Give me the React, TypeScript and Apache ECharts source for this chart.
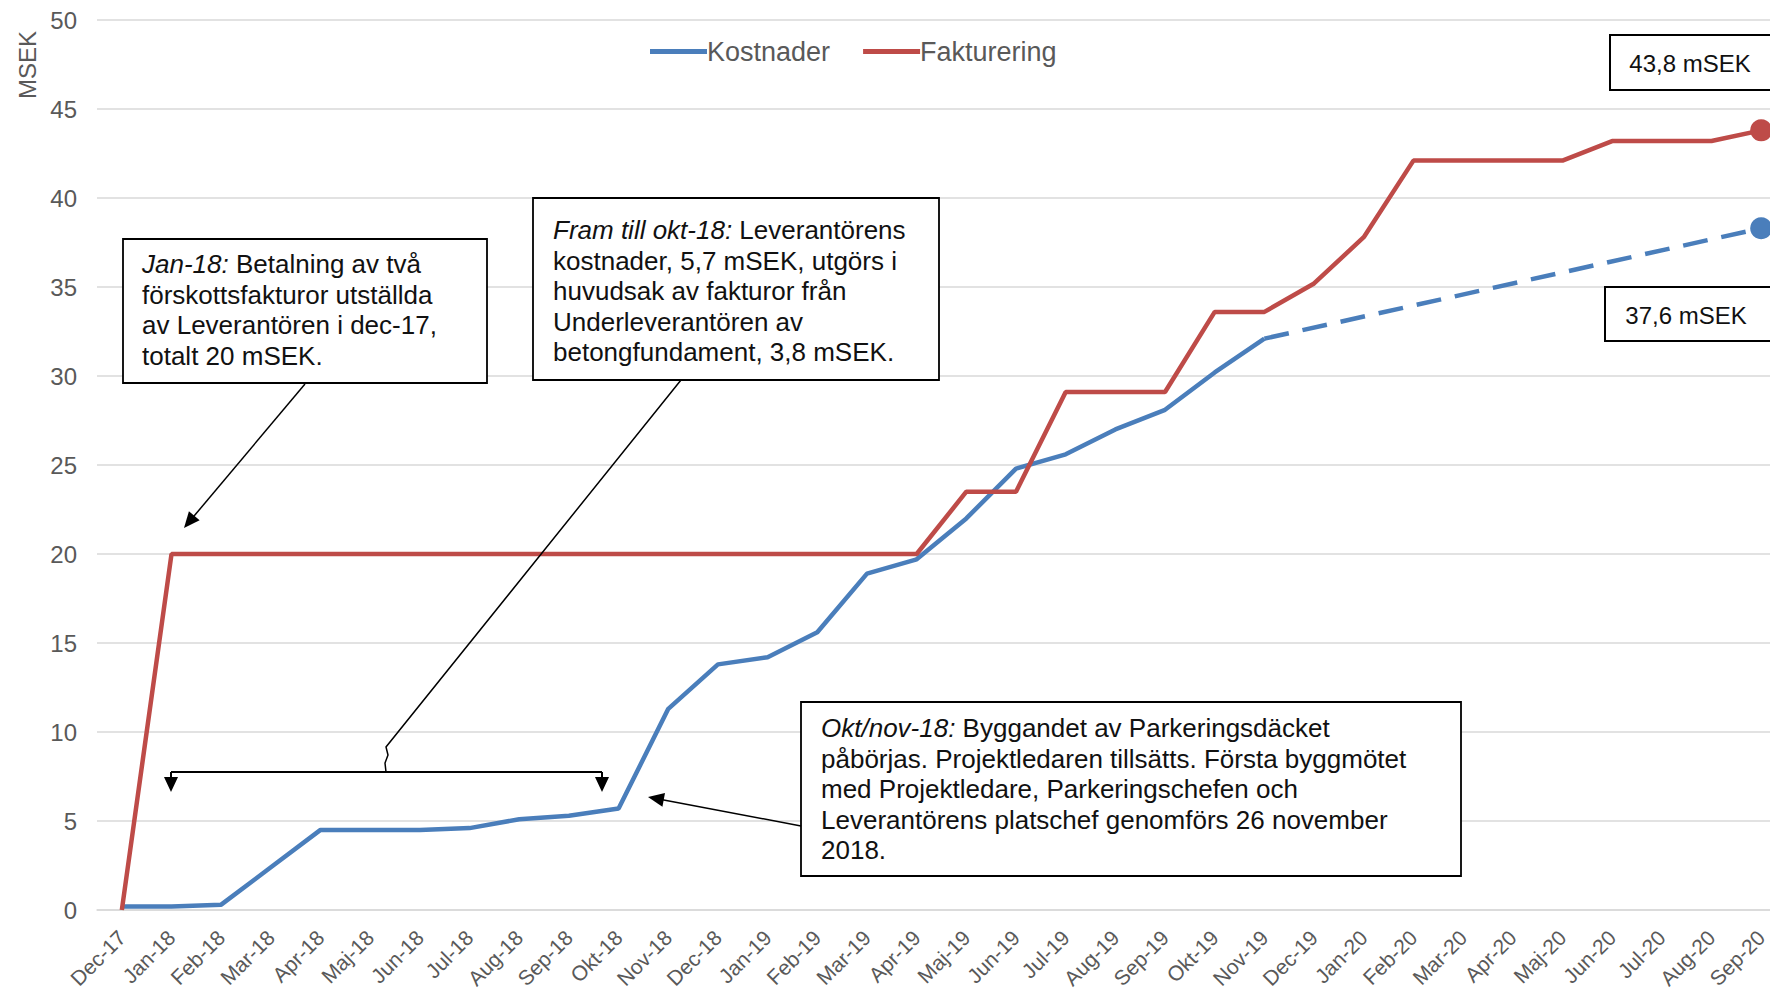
import React, { useEffect, useRef } from 'react';
import * as echarts from 'echarts';

const months = ['Dec-17','Jan-18','Feb-18','Mar-18','Apr-18','Maj-18','Jun-18','Jul-18','Aug-18','Sep-18','Okt-18','Nov-18','Dec-18','Jan-19','Feb-19','Mar-19','Apr-19','Maj-19','Jun-19','Jul-19','Aug-19','Sep-19','Okt-19','Nov-19','Dec-19','Jan-20','Feb-20','Mar-20','Apr-20','Maj-20','Jun-20','Jul-20','Aug-20','Sep-20'];

// Kostnader, actual (Dec-17 .. Nov-19)
const kostnader = [0.2,0.2,0.3,2.4,4.5,4.5,4.5,4.6,5.1,5.3,5.7,11.3,13.8,14.2,15.6,18.9,19.7,22.0,24.8,25.6,27.0,28.1,30.2,32.1];

// Kostnader, forecast (dashed) start and end
const prognosStart = { month: 'Nov-19', value: 32.1 };
const prognosEnd = { month: 'Sep-20', value: 38.3 };

// Fakturering (Dec-17 .. Sep-20)
const fakturering = [0,20,20,20,20,20,20,20,20,20,20,20,20,20,20,20,20,23.5,23.5,29.1,29.1,29.1,33.6,33.6,35.2,37.8,42.1,42.1,42.1,42.1,43.2,43.2,43.2,43.8];

const yTicks = { min: 0, max: 50, interval: 5 };

const BLUE = '#4a7ebb';
const RED = '#be4b48';
const GRAY = '#595959';
const FONT = '"Liberation Sans", Arial, sans-serif';

function arrowHead(tx: number, ty: number, fx: number, fy: number, len = 16, half = 7) {
  const dx = tx - fx, dy = ty - fy;
  const d = Math.sqrt(dx * dx + dy * dy);
  const ux = dx / d, uy = dy / d;
  const bx = tx - ux * len, by = ty - uy * len;
  const px = -uy, py = ux;
  return {
    type: 'polygon',
    shape: { points: [[tx, ty], [bx + px * half, by + py * half], [bx - px * half, by - py * half]] },
    style: { fill: '#000' },
    z: 20,
  };
}

function arrow(fx: number, fy: number, tx: number, ty: number) {
  const dx = tx - fx, dy = ty - fy;
  const d = Math.sqrt(dx * dx + dy * dy);
  const ex = tx - (dx / d) * 12, ey = ty - (dy / d) * 12;
  return [
    { type: 'line', shape: { x1: fx, y1: fy, x2: ex, y2: ey }, style: { stroke: '#000', lineWidth: 1.5 }, z: 20 },
    arrowHead(tx, ty, fx, fy),
  ];
}

function box(x: number, y: number, w: number, h: number, lw = 1.8) {
  return { type: 'rect', shape: { x, y, width: w, height: h }, style: { fill: '#fff', stroke: '#000', lineWidth: lw }, z: 15 };
}

const LH = 30.5;
const FS = 26;
function note(x: number, y: number, text: string) {
  return {
    type: 'text',
    x, y, z: 16,
    style: {
      text,
      fill: '#111',
      fontSize: FS,
      fontFamily: FONT,
      lineHeight: LH,
      align: 'left',
      verticalAlign: 'top',
      rich: {
        i: { fontStyle: 'italic', fontSize: FS, fontFamily: FONT, lineHeight: LH, fill: '#111' },
      },
    },
  };
}

export default function App() {
  const ref = useRef<HTMLDivElement>(null);
  useEffect(() => {
    const chart = echarts.init(ref.current!, null, { renderer: 'svg' });
    const lastIdx = months.length - 1;
    const startIdx = months.indexOf(prognosStart.month);
    const endIdx = months.indexOf(prognosEnd.month);
    const prognos = months.map((_, i) =>
      i === startIdx ? prognosStart.value : i === endIdx ? { value: prognosEnd.value, symbol: 'circle', symbolSize: 22 } : null
    );
    const faktData = fakturering.map((v, i) => (i === lastIdx ? { value: v, symbol: 'circle', symbolSize: 22 } : v));

    const option: any = {
      animation: false,
      backgroundColor: '#fff',
      textStyle: { fontFamily: FONT },
      grid: { left: 97, top: 20, width: 1689, height: 890 },
      legend: {
        data: [
          { name: 'Kostnader', icon: 'rect' },
          { name: 'Fakturering', icon: 'rect' },
        ],
        left: 645,
        top: 33,
        itemWidth: 57,
        itemHeight: 5,
        itemGap: 33,
        textStyle: { color: GRAY, fontSize: 27, fontFamily: FONT, padding: [0, 0, 0, -5] },
      },
      xAxis: {
        type: 'category',
        data: months,
        boundaryGap: true,
        axisLine: { show: true, lineStyle: { color: '#d9d9d9', width: 1.5 } },
        axisTick: { show: false },
        axisLabel: { rotate: 45, interval: 0, color: GRAY, fontSize: 21, fontFamily: FONT, margin: 24 },
        splitLine: { show: false },
      },
      yAxis: {
        type: 'value',
        min: yTicks.min,
        max: yTicks.max,
        interval: yTicks.interval,
        axisLine: { show: false },
        axisTick: { show: false },
        axisLabel: { color: GRAY, fontSize: 24, fontFamily: FONT, margin: 20 },
        splitLine: { lineStyle: { color: '#d9d9d9', width: 1.5 } },
      },
      series: [
        {
          name: 'Kostnader',
          type: 'line',
          data: kostnader,
          symbol: 'none',
          lineStyle: { color: BLUE, width: 4.5 },
          itemStyle: { color: BLUE },
          z: 3,
        },
        {
          name: 'Kostnader prognos',
          type: 'line',
          data: prognos,
          connectNulls: true,
          symbol: 'none',
          showAllSymbol: true,
          lineStyle: { color: BLUE, width: 4.5, type: [25, 14] },
          itemStyle: { color: BLUE },
          z: 3,
        },
        {
          name: 'Fakturering',
          type: 'line',
          data: faktData,
          symbol: 'none',
          showAllSymbol: true,
          lineStyle: { color: RED, width: 4.5 },
          itemStyle: { color: RED },
          z: 4,
        },
      ],
      graphic: [
        {
          type: 'text',
          x: 27, y: 65, rotation: Math.PI / 2,
          style: { text: 'MSEK', fill: GRAY, fontSize: 24, fontFamily: FONT, align: 'center', verticalAlign: 'middle' },
        },
        // Box 1
        box(123, 239, 364, 144),
        note(142, 249, '{i|Jan-18:} Betalning av två\nförskottsfakturor utställda\nav Leverantören i dec-17,\ntotalt 20 mSEK.'),
        ...arrow(305, 384, 184, 528),
        // Box 2
        box(533, 198, 406, 182),
        note(553, 215, '{i|Fram till okt-18:} Leverantörens\nkostnader, 5,7 mSEK, utgörs i\nhuvudsak av fakturor från\nUnderleverantören av\nbetongfundament, 3,8 mSEK.'),
        {
          type: 'polyline',
          shape: { points: [[681, 380], [386, 747], [388, 755], [385, 763], [386, 772]] },
          style: { stroke: '#000', lineWidth: 1.5, fill: null },
          z: 20,
        },
        { type: 'line', shape: { x1: 171, y1: 772, x2: 602, y2: 772 }, style: { stroke: '#000', lineWidth: 2 }, z: 20 },
        { type: 'line', shape: { x1: 171, y1: 772, x2: 171, y2: 778 }, style: { stroke: '#000', lineWidth: 2 }, z: 20 },
        { type: 'line', shape: { x1: 602, y1: 772, x2: 602, y2: 778 }, style: { stroke: '#000', lineWidth: 2 }, z: 20 },
        arrowHead(171, 792, 171, 772, 15, 7),
        arrowHead(602, 792, 602, 772, 15, 7),
        // Box 3
        box(801, 702, 660, 174),
        note(821, 713, '{i|Okt/nov-18:} Byggandet av Parkeringsdäcket\npåbörjas. Projektledaren tillsätts. Första byggmötet\nmed Projektledare, Parkeringschefen och\nLeverantörens platschef genomförs 26 november\n2018.'),
        ...arrow(801, 826, 648, 797),
        // Value boxes
        box(1610, 35, 200, 55, 2),
        {
          type: 'text', x: 1690, y: 63, z: 16,
          style: { text: '43,8 mSEK', fill: '#111', fontSize: 24, fontFamily: FONT, align: 'center', verticalAlign: 'middle' },
        },
        box(1605, 287, 200, 54, 2),
        {
          type: 'text', x: 1686, y: 315, z: 16,
          style: { text: '37,6 mSEK', fill: '#111', fontSize: 24, fontFamily: FONT, align: 'center', verticalAlign: 'middle' },
        },
      ],
    };
    chart.setOption(option);
    return () => chart.dispose();
  }, []);
  return (
    <div style={{ position: 'fixed', left: 0, top: 0, width: 1770, height: 996, overflow: 'hidden', background: '#fff' }}>
      <div ref={ref} style={{ position: 'absolute', left: 0, top: 0, width: 1810, height: 996 }} />
    </div>
  );
}
